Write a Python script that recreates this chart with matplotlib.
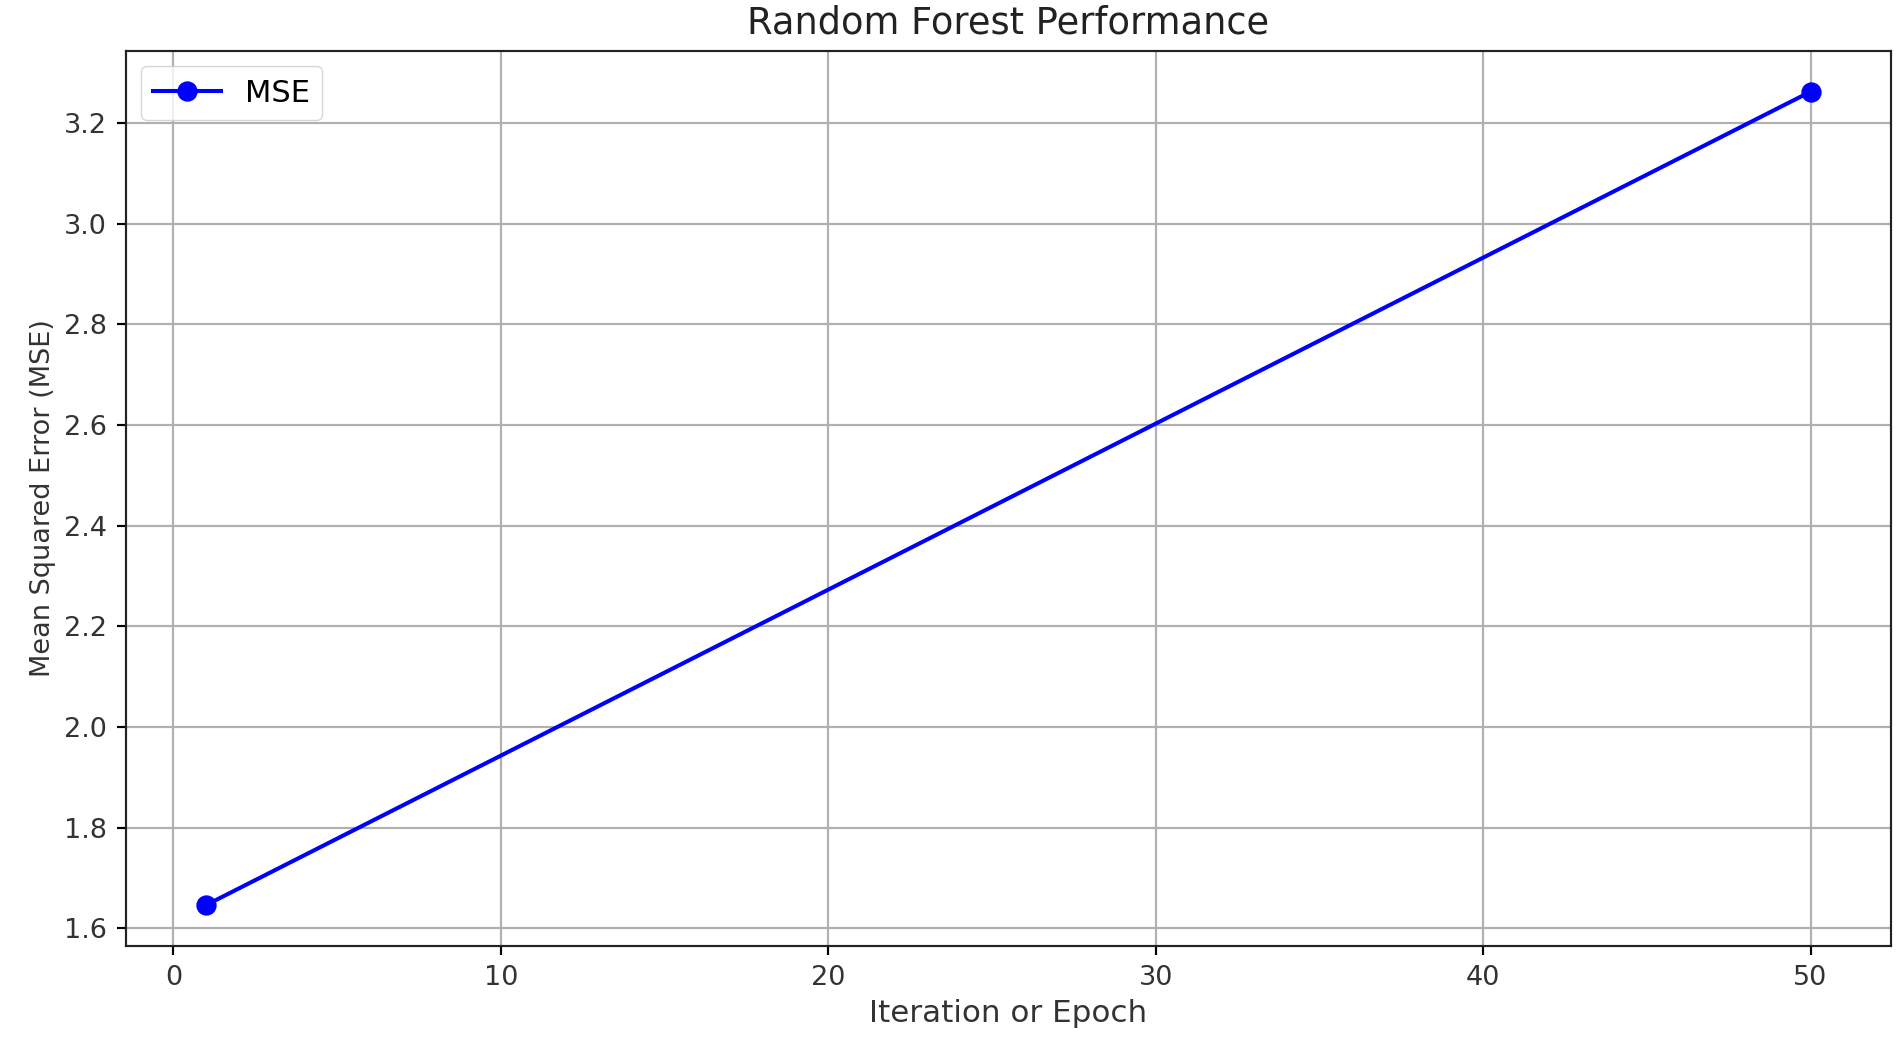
import matplotlib
matplotlib.use("Agg")
import matplotlib.pyplot as plt

## data

epochs = [1, 50]
mse_values = [1.646, 3.262]
series_label = "MSE"

## scale factor: original looks like a 10x5.5 figure blown up ~1.95x
s = 1.95
plt.rcParams["font.family"] = "DejaVu Sans"

fig = plt.figure(figsize=(19.02, 10.39), dpi=100)
ax = fig.add_axes([0.0662, 0.0898, 0.9279, 0.8611])

ax.plot(epochs, mse_values, color="blue", marker="o", linewidth=1.5 * s,
        markersize=7 * s, label=series_label)

ax.set_title("Random Forest Performance", fontsize=26.5, pad=12.5, color="#222222")
ax.set_xlabel("Iteration or Epoch", fontsize=22.3, labelpad=3 * s, color="#333333")
ax.set_ylabel("Mean Squared Error (MSE)", fontsize=10 * s, labelpad=3 * s, color="#333333")

ax.set_xticks([0, 10, 20, 30, 40, 50])
ax.tick_params(labelsize=10 * s, length=3.5 * s, width=0.8 * s, pad=3.5 * s,
               labelcolor="#333333")
for sp in ax.spines.values():
    sp.set_linewidth(0.8 * s)
    sp.set_color("#222222")

ax.grid(True, color="#b0b0b0", linewidth=0.8 * s)
ax.legend(loc="upper left", fontsize=22, framealpha=0.8, borderpad=0.4,
          handlelength=2.2, edgecolor="#cccccc")

fig.savefig("out.png", dpi=100)
